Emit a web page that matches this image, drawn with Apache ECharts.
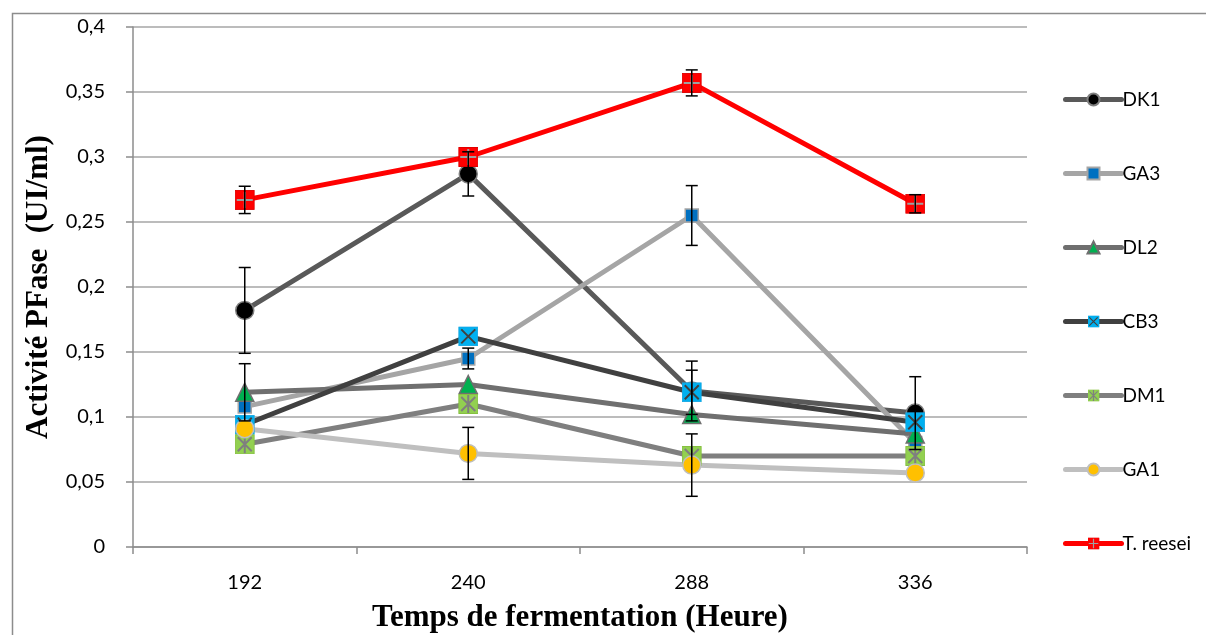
<!DOCTYPE html>
<html>
<head>
<meta charset="utf-8">
<script src="https://cdn.jsdelivr.net/npm/echarts@6/dist/echarts.min.js"></script>
<style>
  html, body { margin: 0; padding: 0; background: #fff; }
  #chart { width: 1206px; height: 635px; }
</style>
</head>
<body>
<div id="chart"></div>
<script>
// données
var hours = ['192', '240', '288', '336'];
var seriesNames = ['DK1', 'GA3', 'DL2', 'CB3', 'DM1', 'GA1', 'T. reesei'];

var dk1 = [0.182, 0.287, 0.120, 0.103];
var ga3 = [0.108, 0.145, 0.255, 0.080];
var dl2 = [0.119, 0.125, 0.102, 0.087];
var cb3 = [0.094, 0.162, 0.119, 0.096];
var dm1 = [0.079, 0.110, 0.070, 0.070];
var ga1 = [0.091, 0.072, 0.063, 0.057];
var treesei = [0.267, 0.300, 0.357, 0.264];

// barres d'erreur (écart)
var dk1Err = [0.033, 0.017, 0.023, 0.028];
var ga3Err = [0, 0.008, 0.023, 0];
var dl2Err = [0.022, 0, 0, 0];
var cb3Err = [0, 0, 0.017, 0];
var dm1Err = [0, 0, 0, 0];
var ga1Err = [0, 0.020, 0.024, 0];
var treeseiErr = [0.0105, 0, 0.010, 0.007];

var yTicks = [0, 0.05, 0.1, 0.15, 0.2, 0.25, 0.3, 0.35, 0.4];

function svgSymbol(svg) {
    return 'image://data:image/svg+xml;charset=utf-8,' + encodeURIComponent(svg);
}

var symCB3 = svgSymbol('<svg xmlns="http://www.w3.org/2000/svg" width="20" height="20">' +
    '<rect x="0.5" y="0.5" width="19" height="19" fill="#00b0f0" stroke="#1aa6e0"/>' +
    '<path d="M3 3 L17 17 M17 3 L3 17" stroke="#404040" stroke-width="2"/></svg>');
var symDM1 = svgSymbol('<svg xmlns="http://www.w3.org/2000/svg" width="20" height="20">' +
    '<rect x="0.5" y="0.5" width="19" height="19" fill="#92d050" stroke="#86c040"/>' +
    '<path d="M3 3 L17 17 M17 3 L3 17 M10 1 L10 19" stroke="#7f7f7f" stroke-width="2"/></svg>');
var symTR = svgSymbol('<svg xmlns="http://www.w3.org/2000/svg" width="20" height="20">' +
    '<rect x="0.5" y="0.5" width="19" height="19" fill="#ff0000" stroke="#e00000"/>' +
    '<path d="M10 2 L10 18 M2 10 L18 10" stroke="#a0a0a0" stroke-width="2"/></svg>');

var chart = echarts.init(document.getElementById('chart'));

function lineSeries(name, data, color, symbol, size, fill, border) {
    return {
        name: name,
        type: 'line',
        data: data,
        symbol: symbol,
        symbolSize: size,
        showAllSymbol: true,
        lineStyle: { color: color, width: 5 },
        itemStyle: { color: fill, borderColor: border, borderWidth: 1.5, opacity: 1 },
        emphasis: { disabled: true },
        z: 3
    };
}

function errSeries(values, errs) {
    var pts = [];
    for (var i = 0; i < values.length; i++) {
        if (errs[i] > 0) pts.push([i, values[i], errs[i]]);
    }
    return {
        type: 'custom',
        data: pts,
        encode: { x: 0, y: 1 },
        z: 4,
        silent: true,
        renderItem: function (params, api) {
            var x = api.value(0), v = api.value(1), e = api.value(2);
            var top = api.coord([x, v + e]);
            var bot = api.coord([x, v - e]);
            var st = { stroke: '#000', lineWidth: 1.5 };
            return {
                type: 'group',
                children: [
                    { type: 'line', shape: { x1: top[0], y1: top[1], x2: bot[0], y2: bot[1] }, style: st },
                    { type: 'line', shape: { x1: top[0] - 6, y1: top[1], x2: top[0] + 6, y2: top[1] }, style: st },
                    { type: 'line', shape: { x1: bot[0] - 6, y1: bot[1], x2: bot[0] + 6, y2: bot[1] }, style: st }
                ]
            };
        }
    };
}

var option = {
    backgroundColor: '#fff',
    animation: false,
    graphic: [{
        type: 'rect',
        left: 10, top: 11,
        shape: { width: 1300, height: 700 },
        style: { fill: 'none', stroke: '#8c8c8c', lineWidth: 1.5 },
        silent: true
    }],
    grid: { left: 133, right: 179, top: 27, bottom: 88, outerBoundsMode: 'none', containLabel: false },
    legend: {
        data: seriesNames,
        orient: 'vertical',
        left: 1058,
        top: 85,
        itemWidth: 56,
        itemHeight: 15,
        itemGap: 55,
        lineStyle: { width: 5, cap: 'round' },
        textStyle: { fontFamily: 'Lato', fontSize: 19, color: '#000', padding: [0, 0, 0, -4] }
    },
    xAxis: {
        type: 'category',
        data: hours,
        name: 'Temps de fermentation (Heure)',
        nameLocation: 'middle',
        nameGap: 55,
        nameTextStyle: { fontFamily: 'Liberation Serif', fontWeight: 'bold', fontSize: 31, color: '#000' },
        axisLine: { lineStyle: { color: '#8c8c8c', width: 1.5 } },
        axisTick: { show: true, length: 7, lineStyle: { color: '#8c8c8c', width: 1.5 } },
        axisLabel: { fontFamily: 'Lato', fontSize: 20, color: '#000', margin: 26 },
        splitLine: { show: false }
    },
    yAxis: {
        type: 'value',
        min: 0,
        max: 0.4,
        interval: 0.05,
        name: 'Activité PFase  (UI/ml)',
        nameLocation: 'middle',
        nameGap: 79,
        nameRotate: 90,
        nameTextStyle: { fontFamily: 'Liberation Serif', fontWeight: 'bold', fontSize: 31, color: '#000' },
        axisLine: { show: true, lineStyle: { color: '#8c8c8c', width: 1.5 } },
        axisTick: { show: true, length: 7, lineStyle: { color: '#8c8c8c', width: 1.5 } },
        axisLabel: {
            fontFamily: 'Lato', fontSize: 20, color: '#000', margin: 28,
            formatter: function (v) {
                var t = yTicks.reduce(function (a, b) { return Math.abs(b - v) < Math.abs(a - v) ? b : a; });
                return String(t).replace('.', ',');
            }
        },
        splitLine: { lineStyle: { color: '#a6a6a6', width: 1.5 } }
    },
    series: [
        lineSeries('DK1', dk1, '#595959', 'circle', 18, '#000', '#7f7f7f'),
        lineSeries('GA3', ga3, '#a5a5a5', 'rect', 13, '#0070c0', '#a5a5a5'),
        lineSeries('DL2', dl2, '#6f6f6f', 'triangle', 18, '#00b050', '#6f6f6f'),
        lineSeries('CB3', cb3, '#404040', symCB3, 20, '#00b0f0', '#404040'),
        lineSeries('DM1', dm1, '#7f7f7f', symDM1, 20, '#92d050', '#7f7f7f'),
        lineSeries('GA1', ga1, '#bfbfbf', 'circle', 18, '#ffc000', '#bfbfbf'),
        lineSeries('T. reesei', treesei, '#ff0000', symTR, 20, '#ff0000', '#a0a0a0'),
        errSeries(dk1, dk1Err),
        errSeries(ga3, ga3Err),
        errSeries(dl2, dl2Err),
        errSeries(cb3, cb3Err),
        errSeries(dm1, dm1Err),
        errSeries(ga1, ga1Err),
        errSeries(treesei, treeseiErr)
    ]
};

chart.setOption(option);

window.addEventListener('resize', function () {
    chart.resize();
});
</script>
</body>
</html>
